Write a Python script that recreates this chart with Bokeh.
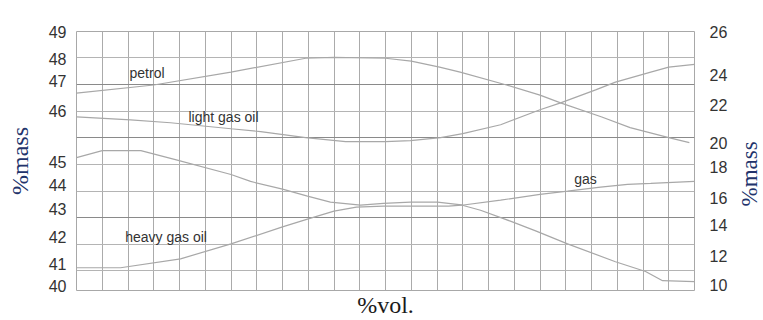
import math
from bokeh.plotting import figure
from bokeh.layouts import row
from bokeh.models import Range1d, LinearAxis, FixedTicker, Grid, ColumnDataSource, Label
from bokeh.core.properties import value
from bokeh.embed import file_html
from bokeh.resources import INLINE

# ---------------- data (x in grid divisions of %vol., y in left-axis %mass) -------------
petrol_x = [0, 3, 6, 8.9, 10, 12, 13, 14.1, 14.9, 16.7, 18, 18.8, 20.4, 21.5, 23, 23.8]
petrol_y = [46.86, 47.14, 47.59, 48.07, 48.10, 48.07, 47.97, 47.76, 47.59, 47.14, 46.79,
            46.52, 46.03, 45.66, 45.31, 45.14]

lgo_x = [0, 2.1, 3.65, 6.0, 7.15, 8.9, 10.45, 12.0, 12.97, 14.14, 15.0, 16.47, 18.0, 18.8,
         20.16, 20.93, 22.3, 23.0, 24.0]
lgo_y = [46.03, 45.93, 45.83, 45.62, 45.52, 45.31, 45.17, 45.17, 45.21, 45.31, 45.45, 45.76,
         46.28, 46.52, 46.97, 47.24, 47.59, 47.76, 47.86]

gas_x = [0, 1.0, 2.5, 3.84, 6.0, 6.76, 8.0, 8.97, 9.86, 11.03, 11.92, 12.97, 14.02, 15.03,
         16.47, 18.0, 19.07, 20.35, 21.4, 22.3, 24.0]
gas_y = [44.62, 44.86, 44.86, 44.55, 44.03, 43.79, 43.52, 43.28, 43.07, 42.97, 43.03, 43.07,
         43.07, 42.97, 43.14, 43.34, 43.45, 43.59, 43.69, 43.72, 43.79]

hgo_x = [0, 1.71, 4.04, 6.0, 8.0, 8.97, 10.0, 10.87, 11.92, 14.45, 14.95, 15.69, 16.85, 17.83,
         19.07, 20.93, 22.1, 22.76, 24.0]
hgo_y = [40.79, 40.79, 41.10, 41.62, 42.21, 42.48, 42.76, 42.90, 42.93, 42.93, 42.97, 42.79,
         42.41, 42.07, 41.62, 41.00, 40.66, 40.34, 40.31]

series_names = ["petrol", "light gas oil", "heavy gas oil", "gas"]

# tick labels (as printed in the reference) and where they sit on the scales
left_tick_labels = ["40", "41", "42", "43", "44", "45", "46", "47", "48", "49"]
left_tick_pos = [40.17, 40.93, 41.86, 42.83, 43.66, 44.48, 46.24, 47.28, 48.03, 49.0]
right_tick_labels = ["10", "12", "14", "16", "18", "20", "22", "24", "26"]
right_tick_pos = [10.31, 12.15, 14.05, 15.70, 17.66, 19.13, 21.46, 23.30, 26.0]

# grid of the scanned chart
v_grid = list(range(1, 24))
h_grid_light = [48.10, 46.21, 44.38, 43.45, 41.59, 40.69]
h_grid_dark = [47.17, 45.31, 42.55]

# curve name annotations (x, y)
label_pos = {"petrol": (2.74, 47.55), "light gas oil": (5.71, 46.03),
             "heavy gas oil": (3.48, 41.86), "gas": (19.77, 43.86)}

# ---------------- main figure ----------------
p = figure(width=733, height=320, title=None,
           x_range=Range1d(0, 24), y_range=Range1d(40, 49),
           output_backend="svg", toolbar_location=None,
           min_border_left=76, min_border_right=39, min_border_top=31, min_border_bottom=28)
p.extra_y_ranges = {"right": Range1d(10, 26)}
p.background_fill_color = "white"
p.border_fill_color = "white"
p.outline_line_color = "#a8a8a8"
p.outline_line_width = 1

# grids
p.xgrid[0].ticker = FixedTicker(ticks=v_grid)
p.xgrid[0].grid_line_color = "#ababab"
p.xgrid[0].grid_line_width = 1
p.ygrid[0].ticker = FixedTicker(ticks=h_grid_light)
p.ygrid[0].grid_line_color = "#b4b4b4"
p.ygrid[0].grid_line_width = 1
dark = Grid(dimension=1, ticker=FixedTicker(ticks=h_grid_dark),
            grid_line_color="#8a8a8a", grid_line_width=1)
p.add_layout(dark)

# axes
xa = p.xaxis[0]
xa.ticker = FixedTicker(ticks=[])
xa.axis_line_color = None
xa.major_tick_line_color = None
xa.minor_tick_line_color = None
xa.major_tick_out = 0
xa.major_tick_in = 0
xa.minor_tick_out = 0
xa.major_label_standoff = 0
xa.major_label_text_font_size = "0px"
xa.axis_label = "%vol."
xa.axis_label_text_font = "Liberation Serif"
xa.axis_label_text_font_size = "24px"
xa.axis_label_text_font_style = "normal"
xa.axis_label_text_color = "#1a1a1a"
xa.axis_label_standoff = 1

ya = p.yaxis[0]
ya.ticker = FixedTicker(ticks=left_tick_pos)
ya.major_label_overrides = {pos: lab for pos, lab in zip(left_tick_pos, left_tick_labels)}
ya.axis_line_color = None
ya.major_tick_line_color = None
ya.minor_tick_line_color = None
ya.major_tick_out = 0
ya.major_tick_in = 0
ya.minor_tick_out = 0
ya.major_label_standoff = 10
ya.major_label_text_font = "Liberation Sans"
ya.major_label_text_font_size = "16px"
ya.major_label_text_color = "#333333"
ya.axis_label = "%mass"
ya.axis_label_text_font = "Liberation Serif"
ya.axis_label_text_font_size = "24px"
ya.axis_label_text_font_style = "normal"
ya.axis_label_text_color = "#22336b"
ya.axis_label_standoff = 13

ra = LinearAxis(y_range_name="right", ticker=FixedTicker(ticks=right_tick_pos))
ra.major_label_overrides = {pos: lab for pos, lab in zip(right_tick_pos, right_tick_labels)}
ra.axis_line_color = None
ra.major_tick_line_color = None
ra.minor_tick_line_color = None
ra.major_tick_out = 0
ra.major_tick_in = 0
ra.minor_tick_out = 0
ra.major_label_standoff = 15
ra.major_label_text_font = "Liberation Sans"
ra.major_label_text_font_size = "16px"
ra.major_label_text_color = "#333333"
p.add_layout(ra, "right")

# curves
curve_color = "#a8a8a8"
for xs, ys in [(petrol_x, petrol_y), (lgo_x, lgo_y), (hgo_x, hgo_y), (gas_x, gas_y)]:
    p.line(xs, ys, line_color=curve_color, line_width=1.2)

# curve names
src = ColumnDataSource(dict(
    x=[label_pos[n][0] for n in series_names],
    y=[label_pos[n][1] for n in series_names],
    t=series_names))
p.text(x="x", y="y", text="t", source=src, text_font=value("Liberation Sans"),
       text_font_size="14px", text_color="#333333", text_align="center",
       text_baseline="middle")

# ---------------- narrow strip holding the right-hand axis title ----------------
pr = figure(width=30, height=320, title=None, x_range=Range1d(0, 30), y_range=Range1d(0, 320),
            x_axis_type=None, y_axis_type=None, output_backend="svg", toolbar_location=None,
            min_border_left=0, min_border_right=0, min_border_top=0, min_border_bottom=0)
pr.outline_line_color = None
pr.xgrid.visible = False
pr.ygrid.visible = False
pr.add_layout(Label(x=16, y=144, text="%mass", angle=math.pi / 2,
                    text_font="Liberation Serif", text_font_size="23px",
                    text_color="#22336b", text_align="center", text_baseline="middle"))

layout = row(p, pr)
open("out.html", "w").write(file_html(layout, INLINE))
